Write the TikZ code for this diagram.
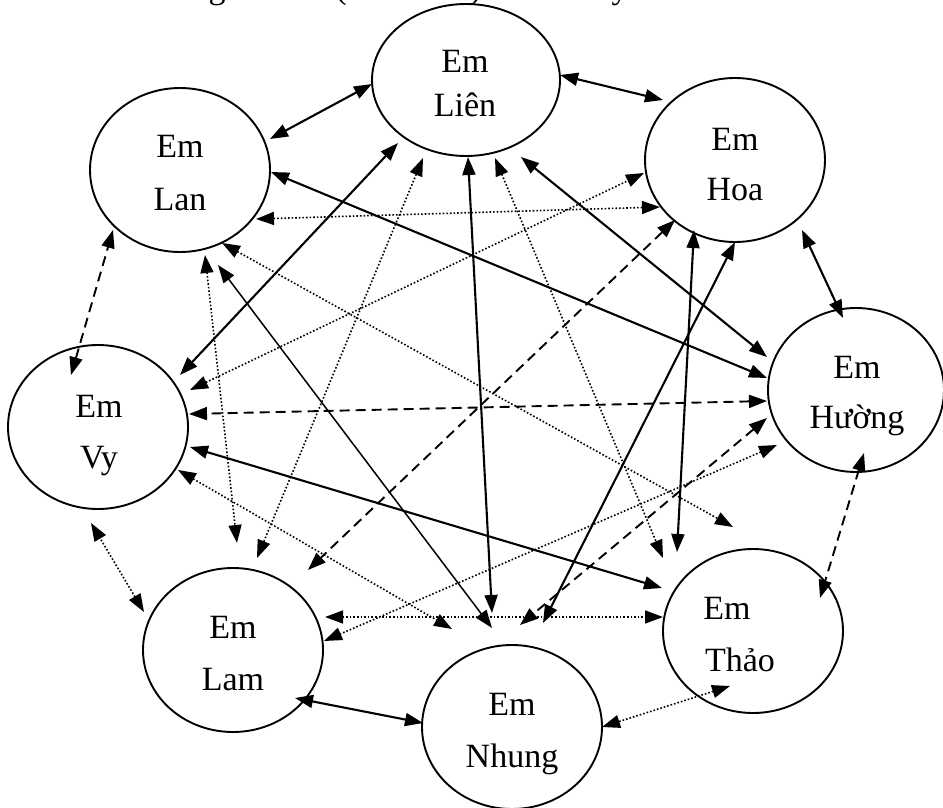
\documentclass[tikz,border=0pt]{standalone}
\usepackage{fontspec}
\setmainfont{Liberation Serif}
\usetikzlibrary{arrows.meta,shapes.geometric}
\tikzset{
  person/.style={draw, ellipse, line width=1.9pt, inner sep=0pt, minimum width=180pt, minimum height=164pt},
  lbl/.style={anchor=base, inner sep=0pt, font=\fontsize{34}{40}\selectfont},
  both/.style={{Triangle[length=18pt,width=13pt]}-{Triangle[length=18pt,width=13pt]}},
  solidE/.style={both, line width=2.1pt},
  thinE/.style={both, line width=1.5pt},
  dashE/.style={both, line width=1.9pt, dash pattern=on 10pt off 6pt},
  dotE/.style={both, line width=1.6pt, dash pattern=on 1.6pt off 2pt}
}
\begin{document}
\begin{tikzpicture}[x=1pt,y=-1pt]
\useasboundingbox (0,0) rectangle (943,808);

% fragments of the cut-off line above
\node[lbl] (topg) at (217,-1) {g};
\node[lbl] (topl) at (341,-1) {(};
\node[lbl] (topr) at (476,-1) {)};
\node[lbl] (topy) at (620,-1) {y};

% people
\node[person, minimum width=188pt, minimum height=152pt] (lien) at (466,80) {};
\node[person] (lan) at (180,170) {};
\node[person] (hoa) at (735,160) {};
\node[person, minimum width=176pt] (huong) at (856,390) {};
\node[person] (vy) at (98,427) {};
\node[person] (lam) at (233,650) {};
\node[person] (nhung) at (512,727) {};
\node[person] (thao) at (753,631) {};

\node[lbl] (lienEm) at (465,73) {Em};
\node[lbl] (lienN) at (465,117) {Liên};
\node[lbl] (lanEm) at (180,157) {Em};
\node[lbl] (lanN) at (180,210) {Lan};
\node[lbl] (hoaEm) at (735,150) {Em};
\node[lbl] (hoaN) at (735,200) {Hoa};
\node[lbl] (huongEm) at (857,378) {Em};
\node[lbl] (huongN) at (857,428) {Hường};
\node[lbl] (vyEm) at (99,417) {Em};
\node[lbl] (vyN) at (99,468) {Vy};
\node[lbl] (lamEm) at (233,638) {Em};
\node[lbl] (lamN) at (233,690) {Lam};
\node[lbl] (thaoEm) at (727,619) {Em};
\node[lbl] (thaoN) at (740,671) {Thảo};
\node[lbl] (nhungEm) at (512,715) {Em};
\node[lbl] (nhungN) at (512,767) {Nhung};

% connector ends
\coordinate (lan-lien) at (270,139);   \coordinate (lien-lan) at (372,84);
\coordinate (lien-hoa) at (560,75);    \coordinate (hoa-lien) at (663,100);
\coordinate (hoa-huong) at (802,230);  \coordinate (huong-hoa) at (843,318);
\coordinate (huong-thao) at (864,453); \coordinate (thao-huong) at (820,598);
\coordinate (thao-nhung) at (730,686); \coordinate (nhung-thao) at (602,727);
\coordinate (nhung-lam) at (423,723);  \coordinate (lam-nhung) at (295,698);
\coordinate (lam-vy) at (144,612);     \coordinate (vy-lam) at (91,523);
\coordinate (vy-lan) at (71,375);      \coordinate (lan-vy) at (113,230);
\coordinate (lan-huong) at (271,172);  \coordinate (huong-lan) at (767,378);
\coordinate (lan-hoa) at (256,219);    \coordinate (hoa-lan) at (660,207);
\coordinate (lan-thao) at (222,243);   \coordinate (thao-lan) at (733,527);
\coordinate (lan-lam) at (205,255);    \coordinate (lam-lan) at (237,543);
\coordinate (lan-nhung) at (218,265);  \coordinate (nhung-lan) at (492,628);
\coordinate (lien-vy) at (398,143);    \coordinate (vy-lien) at (180,375);
\coordinate (lien-lam) at (423,158);   \coordinate (lam-lien) at (257,558);
\coordinate (lien-nhung) at (468,157); \coordinate (nhung-lien) at (492,613);
\coordinate (lien-thao) at (495,158);  \coordinate (thao-lien) at (663,558);
\coordinate (lien-huong) at (521,157); \coordinate (huong-lien) at (767,357);
\coordinate (vy-hoa) at (190,390);     \coordinate (hoa-vy) at (644,173);
\coordinate (hoa-lam) at (675,220);    \coordinate (lam-hoa) at (308,570);
\coordinate (hoa-thao) at (694,230);   \coordinate (thao-hoa) at (677,552);
\coordinate (hoa-nhung) at (735,242);  \coordinate (nhung-hoa) at (543,623);
\coordinate (huong-vy) at (767,401);   \coordinate (vy-huong) at (189,414);
\coordinate (huong-nhung) at (767,418);\coordinate (nhung-huong) at (520,625);
\coordinate (huong-lam) at (777,445);  \coordinate (lam-huong) at (324,641);
\coordinate (vy-thao) at (190,447);    \coordinate (thao-vy) at (662,588);
\coordinate (vy-nhung) at (178,470);   \coordinate (nhung-vy) at (452,629);
\coordinate (lam-thao) at (325,617);   \coordinate (thao-lam) at (663,617);

% connectors around the ring
\draw[solidE] (lan-lien) -- (lien-lan);
\draw[solidE] (lien-hoa) -- (hoa-lien);
\draw[solidE] (hoa-huong) -- (huong-hoa);
\draw[dashE] (huong-thao) -- (thao-huong);
\draw[dotE] (thao-nhung) -- (nhung-thao);
\draw[solidE] (nhung-lam) -- (lam-nhung);
\draw[dotE] (lam-vy) -- (vy-lam);
\draw[dashE] (vy-lan) -- (lan-vy);

% cross connectors
\draw[solidE] (lan-huong) -- (huong-lan);
\draw[dotE] (lan-hoa) -- (hoa-lan);
\draw[dotE] (lan-thao) -- (thao-lan);
\draw[dotE] (lan-lam) -- (lam-lan);
\draw[thinE] (lan-nhung) -- (nhung-lan);
\draw[solidE] (lien-vy) -- (vy-lien);
\draw[dotE] (lien-lam) -- (lam-lien);
\draw[solidE] (lien-nhung) -- (nhung-lien);
\draw[dotE] (lien-thao) -- (thao-lien);
\draw[solidE] (lien-huong) -- (huong-lien);
\draw[dotE] (vy-hoa) -- (hoa-vy);
\draw[dashE] (hoa-lam) -- (lam-hoa);
\draw[solidE] (hoa-thao) -- (thao-hoa);
\draw[solidE] (hoa-nhung) -- (nhung-hoa);
\draw[dashE] (huong-vy) -- (vy-huong);
\draw[dashE] (huong-nhung) -- (nhung-huong);
\draw[dotE] (huong-lam) -- (lam-huong);
\draw[solidE] (vy-thao) -- (thao-vy);
\draw[dotE] (vy-nhung) -- (nhung-vy);
\draw[dotE] (lam-thao) -- (thao-lam);
\end{tikzpicture}
\end{document}
